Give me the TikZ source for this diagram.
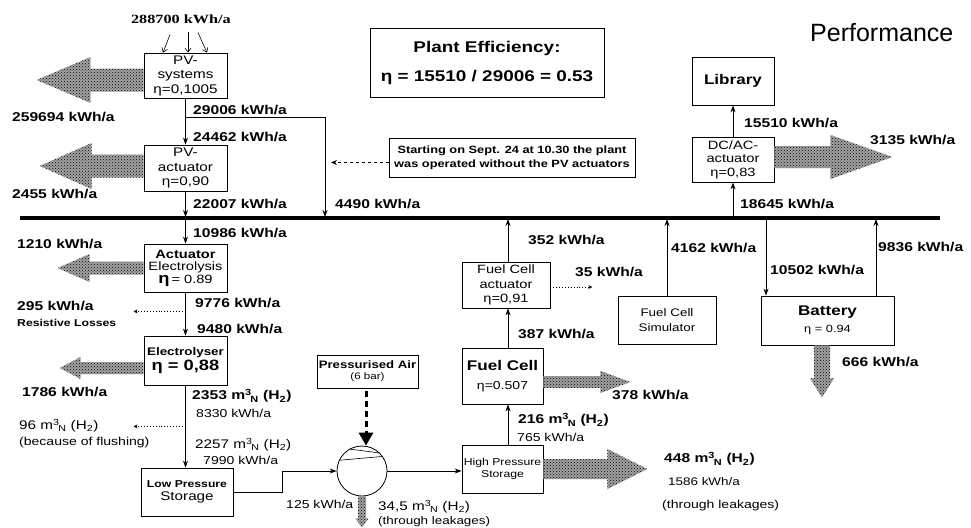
\documentclass[tikz,border=0pt]{standalone}
\usepackage{fontspec}
\setmainfont{Liberation Sans}[FakeStretch=1.22]
\newfontfamily\serifb{Liberation Serif}[FakeStretch=1.3]
\newfontfamily\plainsans{Liberation Sans}
\usetikzlibrary{arrows.meta,patterns,calc}
\newcommand\fs[2]{\fontsize{#1}{#2}\selectfont}
\newcommand\mN{m\textsuperscript{3}\kern-0.1em\textsubscript{N}}
\newcommand\Htwo{H\textsubscript{2}}
\newcommand\fatarrow[6]{%
  \fill[hatch, shift={(#1)}, rotate=#2] (0,-#5) -- (#3-#4,-#5) -- (#3-#4,-#6) -- (#3,0) -- (#3-#4,#6) -- (#3-#4,#5) -- (0,#5) -- cycle;}
\tikzset{
  box/.style={draw, line width=0.8pt, align=center, inner sep=1pt, font=\fs{12.5}{14.5}},
  lab/.style={anchor=west, inner sep=0pt, font=\fs{12.8}{14}\bfseries},
  slab/.style={anchor=west, inner sep=0pt, font=\fs{11.5}{13}},
  flow/.style={line width=0.8pt, -{Stealth[length=7pt,width=5pt]}},
  thinflow/.style={line width=0.6pt, -{Straight Barb[length=4pt,width=6pt]}},
  hatch/.style={preaction={fill=gray!72}, pattern=crosshatch dots, pattern color=black},
}
\begin{document}
\begin{tikzpicture}[x=1pt,y=-1pt]
\fill[white] (0,0) rectangle (971,527);
\useasboundingbox (0,0) rectangle (971,527);

% bus
\coordinate (busL) at (20,218);
\coordinate (busR) at (940,218);
\draw[line width=3.5pt] (busL) -- (busR);

% boxes
\node[box, minimum width=83pt, minimum height=45pt] (pvs) at (185.5,75.5) {PV-\\systems\\η=0,1005};
\node[box, minimum width=83pt, minimum height=46pt] (pva) at (185.5,168) {PV-\\actuator\\η=0,90};
\node[box, minimum width=83pt, minimum height=48pt, font=\fs{12}{12.5}] (ael) at (185.5,268) {\bfseries Actuator\\Electrolysis\\{\fs{15}{13}\bfseries η}\,= 0.89};
\node[box, minimum width=83pt, minimum height=49pt, font=\fs{11}{15}] (ely) at (185.5,360.5) {\bfseries Electrolyser\\{\fs{15}{15}\bfseries η = 0,88}};
\node[box, minimum width=92pt, minimum height=48pt, font=\fs{10}{12.5}] (lps) at (187,492) {\bfseries Low Pressure\\{\fs{12.5}{12.5}Storage}};
\node[box, minimum width=101pt, minimum height=33pt, font=\fs{10.8}{11}] (pa) at (367.5,371.5) {\bfseries Pressurised Air\\{\fs{9.5}{11}(6 bar)}};
\node[circle, draw, line width=0.8pt, minimum size=50pt, inner sep=0pt] (comp) at (362,471) {};
\draw[line width=0.6pt] (comp.155) -- (comp.35);
\draw[line width=0.6pt] (comp.120) -- (comp.45);
\node[box, minimum width=81pt, minimum height=48pt, font=\fs{10}{12}] (hps) at (502.5,469) {High Pressure\\Storage};
\node[box, minimum width=81pt, minimum height=56pt, font=\fs{14}{19}] (fcl) at (502.5,376) {\bfseries Fuel Cell\\{\fs{11.5}{19}η=0.507}};
\node[box, minimum width=88pt, minimum height=46pt, font=\fs{12}{14.5}] (fca) at (506,285) {Fuel Cell\\actuator\\η=0,91};
\node[box, minimum width=98pt, minimum height=48pt, font=\fs{11}{15}] (fcs) at (667,320) {Fuel Cell\\Simulator};
\node[box, minimum width=133pt, minimum height=49pt, font=\fs{14}{17}] (bat) at (827.5,320.5) {\bfseries Battery\\{\fs{10.5}{17}η = 0.94}};
\node[box, minimum width=82pt, minimum height=45pt, font=\fs{12}{13.5}] (dca) at (733,159.5) {DC/AC-\\actuator\\η=0,83};
\node[box, minimum width=82pt, minimum height=48pt, font=\fs{14}{15}\bfseries] (lib) at (733,81) {Library};
\node[box, minimum width=234pt, minimum height=69pt, font=\fs{15.5}{29}\bfseries] (eff) at (487,62.5) {Plant Efficiency:\\η = 15510 / 29006 = 0.53};
\node[box, minimum width=246pt, minimum height=39pt, font=\fs{10.5}{14}\bfseries] (note) at (512,157.5) {Starting on Sept. 24 at 10.30 the plant\\was operated without the PV actuators};

% title and source
\node[anchor=west, inner sep=0pt, font=\plainsans\fs{25}{25}] (perf) at (810,33) {Performance};
\node[inner sep=0pt, font=\serifb\bfseries\fs{12.5}{14}] (src) at (181,19) {288700 kWh/a};
\draw[thinflow] ($(pvs.north)+(-15.5,-18)$) -- ($(pvs.north)+(-22.5,0)$);
\draw[thinflow] ($(pvs.north)+(2.5,-21)$) -- ($(pvs.north)+(2.5,0)$);
\draw[thinflow] ($(pvs.north)+(12.5,-20)$) -- ($(pvs.north)+(21.5,0)$);

% hatched loss arrows
\fatarrow{$(pvs.west)+(0,4.5)$}{180}{107}{54}{11.5}{23}
\fatarrow{$(pva.west)+(0,-2)$}{180}{104}{52}{11.5}{23}
\fatarrow{ael.west}{180}{86}{32}{6.5}{14}
\fatarrow{$(ely.west)+(0,7.5)$}{180}{84}{21}{6}{11}
\fatarrow{$(dca.east)+(0,-2.5)$}{0}{118}{62}{11}{22}
\fatarrow{$(fcl.east)+(0,6)$}{0}{87}{30}{6}{11}
\fatarrow{hps.east}{0}{104}{40}{10}{20}
\fatarrow{$(bat.south)+(-5.5,0)$}{-90}{52}{19}{8}{12}
\fatarrow{comp.south}{-90}{31}{9}{4}{6.5}

% connectors
\coordinate (jx) at (325,117);
\coordinate (fcx) at (508,0);
\coordinate (bx1) at (766,0);
\coordinate (bx2) at (876,0);
\coordinate (kx) at (282,0);
\draw[flow] (pvs.south) -- (pva.north);
\draw[flow, shorten >=1pt] (pvs.south |- jx) -- (jx) -- (jx |- busL);
\draw[flow, shorten >=1pt] (pva.south) -- (pva.south |- busL);
\draw[flow] (pva.south |- busL) -- (ael.north);
\draw[flow] (ael.south) -- (ely.north);
\draw[flow] (ely.south) -- (ely.south |- lps.north);
\draw[flow] (lps.east) -- (lps.east -| kx) -- (kx |- comp.west) -- (comp.west);
\draw[flow] (comp.east) -- (comp.east -| hps.west);
\draw[flow] (fcx |- hps.north) -- (fcx |- fcl.south);
\draw[flow] (fcx |- fcl.north) -- (fcx |- fca.south);
\draw[flow, shorten >=1pt] (fcx |- fca.north) -- (fcx |- busL);
\draw[flow, shorten >=1pt] (fcs.north) -- (fcs.north |- busL);
\draw[flow] (bx1 |- busL) -- (bx1 |- bat.north);
\draw[flow, shorten >=1pt] (bx2 |- bat.north) -- (bx2 |- busL);
\draw[flow] (dca.south |- busL) -- (dca.south);
\draw[flow] (dca.north) -- (lib.south);
\draw[dotted, line width=0.9pt, -{Stealth[length=4pt,width=4pt]}] ($(ael.south)+(0,19)$) -- ++(-52,0);
\draw[dotted, line width=0.9pt, -{Stealth[length=4pt,width=4pt]}] ($(ely.south)+(0,41)$) -- ++(-52,0);
\draw[dotted, line width=0.9pt, -{Stealth[length=4pt,width=4pt]}] ($(fca.east)+(0,2)$) -- ++(42,0);
\draw[dashed, line width=0.8pt, -{Stealth[length=6pt,width=5pt]}] ($(note.west)+(0,5)$) -- ($(note.west -| jx)+(6,5)$);
\draw[line width=3pt, dash pattern=on 6pt off 4pt, -{Triangle[length=13pt,width=14pt]}] ($(pa.south)+(-1.5,3)$) -- ($(comp.north)+(4,0)$);

% labels
\node[lab] (l1) at (193,110) {29006 kWh/a};
\node[lab] (l2) at (193,137) {24462 kWh/a};
\node[lab] (l3) at (12,117) {259694 kWh/a};
\node[lab] (l4) at (12,194) {2455 kWh/a};
\node[lab] (l5) at (193,204) {22007 kWh/a};
\node[lab] (l6) at (335,204) {4490 kWh/a};
\node[lab] (l7) at (193,233) {10986 kWh/a};
\node[lab] (l8) at (17,244) {1210 kWh/a};
\node[lab] (l9) at (195,303) {9776 kWh/a};
\node[lab] (l10) at (17,306) {295 kWh/a};
\node[lab, font=\fs{10}{12}\bfseries] (l11) at (17,323) {Resistive Losses};
\node[lab] (l12) at (197,329) {9480 kWh/a};
\node[lab] (l13) at (22,392) {1786 kWh/a};
\node[lab] (l14) at (192,396) {2353 \mN\ (\Htwo)};
\node[slab] (l15) at (196,413) {8330 kWh/a};
\node[slab, font=\fs{12.5}{13}] (l16) at (19,426) {96 \mN\ (\Htwo)};
\node[slab, font=\fs{11.5}{13}] (l17) at (19,443) {(because of flushing)};
\node[slab, font=\fs{12.5}{13}] (l18) at (195,445) {2257 \mN\ (\Htwo)};
\node[slab] (l19) at (203,460) {7990 kWh/a};
\node[slab] (l20) at (286,504) {125 kWh/a};
\node[slab, font=\fs{12.5}{13}] (l21) at (378,507) {34,5 \mN\ (\Htwo)};
\node[slab, font=\fs{11}{12}] (l22) at (378,522) {(through leakages)};
\node[lab] (l23) at (518,420) {216 \mN\ (\Htwo)};
\node[slab] (l24) at (517,437) {765 kWh/a};
\node[lab] (l25) at (612,395) {378 kWh/a};
\node[lab] (l26) at (664,459) {448 \mN\ (\Htwo)};
\node[slab, font=\fs{11}{12}] (l27) at (668,482) {1586 kWh/a};
\node[slab, font=\fs{11.5}{13}] (l28) at (662,506) {(through leakages)};
\node[lab] (l29) at (518,334) {387 kWh/a};
\node[lab] (l30) at (528,240) {352 kWh/a};
\node[lab] (l31) at (575,272) {35 kWh/a};
\node[lab] (l32) at (671,248) {4162 kWh/a};
\node[lab] (l33) at (770,270) {10502 kWh/a};
\node[lab] (l34) at (878,247) {9836 kWh/a};
\node[lab] (l35) at (842,362) {666 kWh/a};
\node[lab] (l36) at (740,204) {18645 kWh/a};
\node[lab] (l37) at (744,123) {15510 kWh/a};
\node[lab] (l38) at (870,140) {3135 kWh/a};
\end{tikzpicture}
\end{document}
